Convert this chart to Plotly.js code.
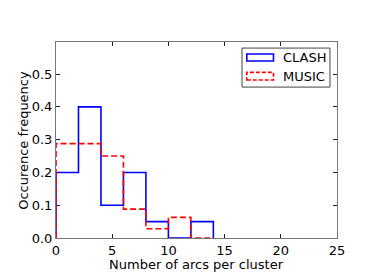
<!DOCTYPE html>
<html><head><meta charset="utf-8">
<script src="https://cdn.plot.ly/plotly-3.0.1.min.js"></script>
<style>html,body{margin:0;padding:0;background:#fff}</style>
</head><body>
<div id="chart" style="width:374px;height:280px"></div>
<script>
// Data
const binEdges = [0, 2, 4, 6, 8, 10, 12, 14];
const clashFreq = [0.20, 0.40, 0.10, 0.20, 0.05, 0.00, 0.05];
const musicFreq = [0.288, 0.288, 0.25, 0.088, 0.028, 0.063, 0.00];
const seriesNames = ['CLASH', 'MUSIC'];
const xTicks = [0, 5, 10, 15, 20, 25];
const yTicks = [0.0, 0.1, 0.2, 0.3, 0.4, 0.5];
const xTitle = 'Number of arcs per cluster';
const yTitle = 'Occurence frequency';

function stepOutline(edges, vals) {
  const x = [edges[0]], y = [0];
  for (let i = 0; i < vals.length; i++) { x.push(edges[i]); y.push(vals[i]); }
  x.push(edges[edges.length - 1]); y.push(0);
  return {x, y};
}
const c = stepOutline(binEdges, clashFreq);
const m = stepOutline(binEdges, musicFreq);

const font = {family: 'DejaVu Sans', size: 13, color: '#000'};
const traces = [
  {x: c.x, y: c.y, type: 'scatter', mode: 'lines', line: {shape: 'hv', color: '#0000ff', width: 1.6}, name: seriesNames[0], showlegend: false},
  {x: m.x, y: m.y, type: 'scatter', mode: 'lines', line: {shape: 'hv', color: '#ff0000', width: 1.6, dash: '6px,3px'}, name: seriesNames[1], showlegend: false}
];

const layout = {
  width: 374, height: 280,
  margin: {l: 56, r: 37, t: 42, b: 42, pad: 0},
  paper_bgcolor: '#fff', plot_bgcolor: '#fff',
  font: font,
  showlegend: false,
  xaxis: {
    range: [0, 25], tickvals: xTicks, ticktext: xTicks.map(String),
    ticks: 'inside', ticklen: 4, tickcolor: '#222', tickwidth: 1,
    showline: true, linecolor: '#777', linewidth: 1, mirror: 'ticks',
    showgrid: false, zeroline: false, layer: 'below traces',
    tickfont: font
  },
  yaxis: {
    range: [0, 0.598], tickvals: yTicks, ticktext: yTicks.map(v => v.toFixed(1)),
    ticks: 'inside', ticklen: 4, tickcolor: '#222', tickwidth: 1,
    showline: true, linecolor: '#777', linewidth: 1, mirror: 'ticks',
    showgrid: false, zeroline: false, layer: 'below traces',
    tickfont: font
  },
  shapes: [
    {type: 'rect', xref: 'paper', yref: 'paper', x0: 0.662, x1: 0.975, y0: 0.770, y1: 0.969, line: {color: '#444', width: 1}, fillcolor: '#fff'},
    {type: 'rect', xref: 'paper', yref: 'paper', x0: 0.679, x1: 0.774, y0: 0.903, y1: 0.939, line: {color: '#0000ff', width: 1.6}},
    {type: 'rect', xref: 'paper', yref: 'paper', x0: 0.679, x1: 0.774, y0: 0.806, y1: 0.845, line: {color: '#ff0000', width: 1.6, dash: '4px,2px'}}
  ],
  annotations: [
    {xref: 'paper', yref: 'paper', x: 0.80, y: 0.921, text: seriesNames[0], showarrow: false, xanchor: 'left', yanchor: 'middle', font: font},
    {xref: 'paper', yref: 'paper', x: 0.80, y: 0.825, text: seriesNames[1], showarrow: false, xanchor: 'left', yanchor: 'middle', font: font},
    {xref: 'paper', yref: 'paper', x: 0.5, y: -0.137, text: xTitle, showarrow: false, xanchor: 'center', yanchor: 'middle', borderpad: 0, font: font},
    {xref: 'paper', yref: 'paper', x: -0.118, y: 0.5, text: yTitle, textangle: -90, showarrow: false, xanchor: 'center', yanchor: 'middle', borderpad: 0, font: font}
  ]
};
Plotly.newPlot('chart', traces, layout, {displayModeBar: false, staticPlot: true});
</script>
</body></html>
